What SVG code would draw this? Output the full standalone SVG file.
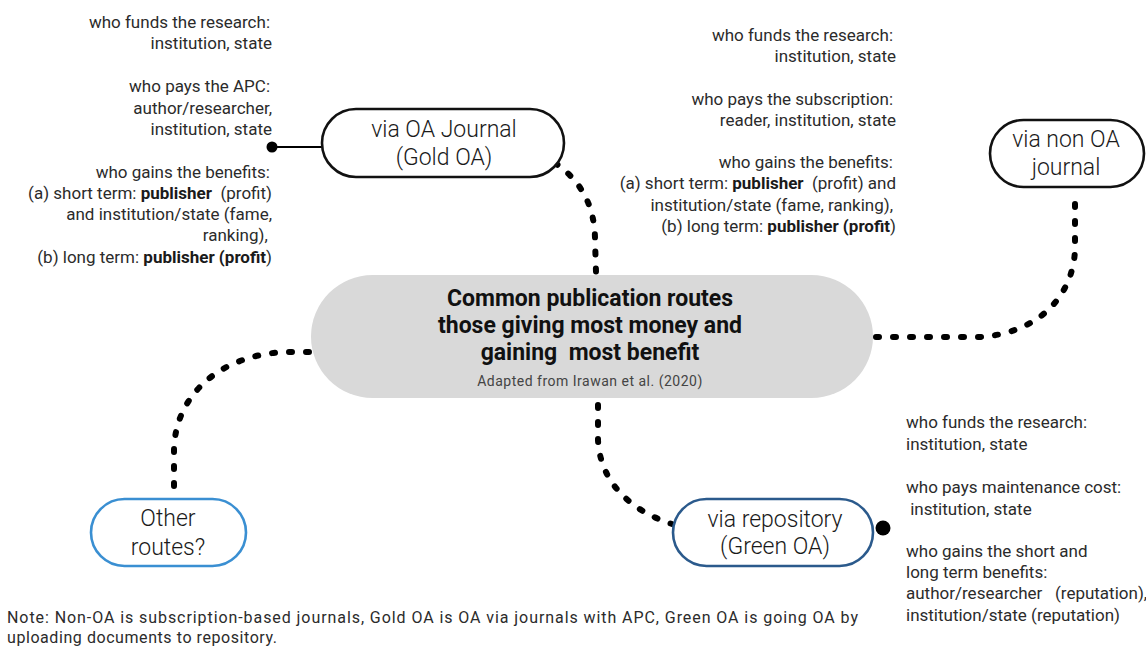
<svg xmlns="http://www.w3.org/2000/svg" width="1146" height="648" viewBox="0 0 1146 648">
<defs>
<style>
text { font-family: Roboto, "Liberation Sans", sans-serif; white-space: pre; }
.lbl { font-size: 17px; fill: #2b2b2b; }
.b { font-weight: 700; fill: #1a1a1a; }
.node { font-size: 23px; fill: #1a1a1a; font-weight: 300; text-anchor: middle; }
.title { font-size: 23px; font-weight: 700; fill: #111; text-anchor: middle; }
.dots { fill: none; stroke: #000; stroke-width: 6; stroke-linecap: round; stroke-dasharray: 3 14; }
.pill { fill: #fff; stroke-width: 2.6; }
</style>
</defs>
<rect width="1146" height="648" fill="#fff"/>

<g id="connectors">
  <path class="dots" d="M 555 163 C 580 180 595 205 595 240 L 596 272"/>
  <path class="dots" d="M 876 337 L 980 337 C 1040 333 1073 295 1075 250 L 1075 196"/>
  <path class="dots" d="M 598 405 L 598 440 C 600 480 628 510 672 524"/>
  <path class="dots" d="M 309 352 L 285 352 C 220 355 175 395 174 450 L 174 492"/>
  <line x1="272" y1="147" x2="334" y2="147" stroke="#000" stroke-width="2.2"/>
  <circle cx="272" cy="147" r="5.5" fill="#000"/>
  <line x1="862" y1="527" x2="872" y2="527" stroke="#000" stroke-width="6"/>
  <circle cx="883" cy="528" r="7.5" fill="#000"/>
</g>

<g id="center">
  <rect x="311" y="275" width="562" height="123" rx="61.5" fill="#d9d9d9"/>
  <text class="title" x="590" y="306">Common publication routes</text>
  <text class="title" x="590" y="333">those giving most money and</text>
  <text class="title" x="590" y="360">gaining  most benefit</text>
  <text x="590" y="386" font-size="14" fill="#444" text-anchor="middle" letter-spacing="0.5">Adapted from Irawan et al. (2020)</text>
</g>

<g id="gold-oa">
  <rect class="pill" x="322" y="109" width="242" height="68" rx="34" stroke="#111"/>
  <text class="node" x="444" y="137">via OA Journal</text>
  <text class="node" x="444" y="165">(Gold OA)</text>
</g>

<g id="non-oa">
  <rect class="pill" x="990" y="120" width="154" height="67" rx="33.5" stroke="#111"/>
  <text class="node" x="1066" y="147">via non OA</text>
  <text class="node" x="1066" y="175">journal</text>
</g>

<g id="repository">
  <rect class="pill" x="673" y="499" width="200" height="67" rx="33.5" stroke="#2b5a8c"/>
  <text class="node" x="775" y="527">via repository</text>
  <text class="node" x="775" y="554">(Green OA)</text>
</g>

<g id="other-routes">
  <rect class="pill" x="91" y="499" width="155" height="67" rx="33.5" stroke="#3a8fd2"/>
  <text class="node" x="168" y="526">Other</text>
  <text class="node" x="168" y="555">routes?</text>
</g>

<g id="gold-oa-notes" class="lbl" text-anchor="end">
  <text class="lbl" x="270" y="28" text-anchor="end">who funds the research:</text>
  <text class="lbl" x="272" y="49" text-anchor="end">institution, state</text>
  <text class="lbl" x="270" y="92" text-anchor="end">who pays the APC:</text>
  <text class="lbl" x="272" y="114" text-anchor="end">author/researcher,</text>
  <text class="lbl" x="272" y="135" text-anchor="end">institution, state</text>
  <text class="lbl" x="270" y="178" text-anchor="end">who gains the benefits:</text>
  <text class="lbl" x="272" y="199" text-anchor="end">(a) short term: <tspan class="b">publisher</tspan>  (profit)</text>
  <text class="lbl" x="272" y="220" text-anchor="end">and institution/state (fame,</text>
  <text class="lbl" x="272" y="241" text-anchor="end">ranking), </text>
  <text class="lbl" x="272" y="263" text-anchor="end">(b) long term: <tspan class="b">publisher (profit</tspan>)</text>
</g>

<g id="non-oa-notes">
  <text class="lbl" x="893" y="41" text-anchor="end">who funds the research:</text>
  <text class="lbl" x="896" y="62" text-anchor="end">institution, state</text>
  <text class="lbl" x="893" y="105" text-anchor="end">who pays the subscription:</text>
  <text class="lbl" x="896" y="126" text-anchor="end">reader, institution, state</text>
  <text class="lbl" x="893" y="168" text-anchor="end">who gains the benefits:</text>
  <text class="lbl" x="896" y="189" text-anchor="end">(a) short term: <tspan class="b">publisher</tspan>  (profit) and</text>
  <text class="lbl" x="893" y="211" text-anchor="end">institution/state (fame, ranking),</text>
  <text class="lbl" x="896" y="232" text-anchor="end">(b) long term: <tspan class="b">publisher (profit</tspan>)</text>
</g>

<g id="repository-notes">
  <text class="lbl" x="906" y="428">who funds the research:</text>
  <text class="lbl" x="906" y="450">institution, state</text>
  <text class="lbl" x="906" y="493">who pays maintenance cost:</text>
  <text class="lbl" x="906" y="515"> institution, state</text>
  <text class="lbl" x="906" y="557">who gains the short and</text>
  <text class="lbl" x="906" y="578">long term benefits:</text>
  <text class="lbl" x="906" y="599">author/researcher   (reputation),</text>
  <text class="lbl" x="906" y="621">institution/state (reputation)</text>
</g>

<g id="note">
  <text x="7" y="623" font-size="16" fill="#2b2b2b" textLength="851" lengthAdjust="spacing">Note: Non-OA is subscription-based journals, Gold OA is OA via journals with APC, Green OA is going OA by</text>
  <text x="7" y="643" font-size="16" fill="#2b2b2b" textLength="270" lengthAdjust="spacing">uploading documents to repository.</text>
</g>
</svg>
